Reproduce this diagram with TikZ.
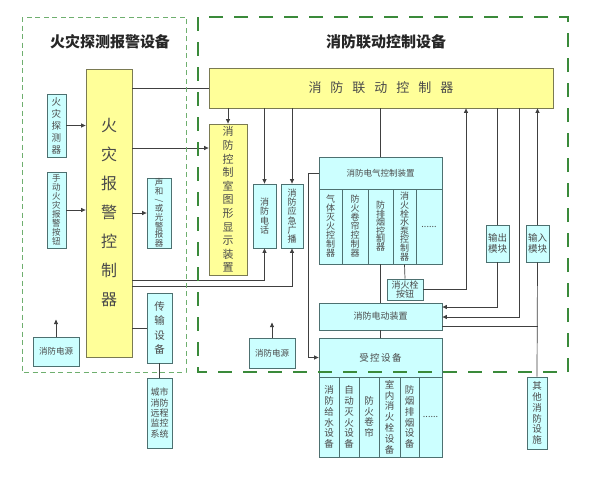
\documentclass[tikz,border=0pt]{standalone}
\usepackage{fontspec}
\newfontfamily\cjk{Noto Sans CJK SC}
\usetikzlibrary{arrows.meta,calc}
\definecolor{yfill}{HTML}{FFFF99}
\definecolor{yline}{HTML}{7A7A52}
\definecolor{cfill}{HTML}{CCFFFF}
\definecolor{cline}{HTML}{4D7070}
\definecolor{lc}{HTML}{404040}
\definecolor{txt}{HTML}{4A4A4A}
\definecolor{lgreen}{HTML}{6FAF6F}
\definecolor{dgreen}{HTML}{3A8A3A}
\newcommand\bx[9]{\node[#2, minimum width={(#5-#3)*1pt}, minimum height={(#6-#4)*1pt}, font=\cjk\fontsize{#7}{#8}\selectfont] (#1) at ({(#3+#5)/2},{(#4+#6)/2}) {#9};}
\begin{document}
\begin{tikzpicture}[x=1pt,y=-1pt,
  yb/.style={draw=yline, fill=yfill, line width=0.8pt, inner sep=0pt, text=txt, align=center},
  cb/.style={draw=cline, fill=cfill, line width=0.8pt, inner sep=0pt, text=txt, align=center},
  ln/.style={draw=lc, line width=0.7pt},
  arr/.style={ln, -{Triangle[length=4.5pt,width=4pt]}},
  ttl/.style={font=\cjk\bfseries\fontsize{15}{15}\selectfont, text=black!85}]
\useasboundingbox[fill=white] (0,0) rectangle (590,482);
\node[ttl] (lt) at (110,42) {火灾探测报警设备};
\node[ttl] (rt) at (386,42) {消防联动控制设备};
% boxes
\bx{ldc}{yb}{209}{68}{553}{108}{13}{15}{消\hspace{9pt}防\hspace{9pt}联\hspace{9pt}动\hspace{9pt}控\hspace{9pt}制\hspace{9pt}器}
\bx{fac}{yb}{86}{69}{132}{357}{16}{29}{火\\灾\\报\\警\\控\\制\\器}
\bx{det}{cb}{47}{94}{66}{157}{9.5}{12}{火\\灾\\探\\测\\器}
\bx{man}{cb}{47}{172}{66}{248}{8.5}{9}{手\\动\\火\\灾\\报\\警\\按\\钮}
\bx{alm}{cb}{147}{178}{171}{248}{8.5}{8.7}{声\\和\\\rotatebox[origin=c]{90}{/}\\或\\光\\警\\报\\器}
\bx{gds}{yb}{209}{124}{247}{275}{11}{13.6}{消\\防\\控\\制\\室\\图\\形\\显\\示\\装\\置}
\bx{tel}{cb}{253}{184}{276}{248}{9}{9.2}{消\\防\\电\\话}
\bx{bro}{cb}{281}{184}{303}{248}{9}{9.2}{消\\防\\应\\急\\广\\播}
\bx{ecu}{cb}{319}{157}{442}{189}{8.5}{10}{消防电气控制装置}
\bx{ec1}{cb}{319}{189}{342}{264}{9}{9}{气\\体\\灭\\火\\控\\制\\器}
\bx{ec2}{cb}{342}{189}{368}{264}{9}{9}{防\\火\\卷\\帘\\控\\制\\器}
\bx{ec3}{cb}{368}{189}{393}{264}{9}{8.4}{防\\排\\烟\\控\\制\\器}
\bx{ec4}{cb}{393}{189}{416}{264}{9}{8.6}{消\\火\\栓\\水\\泵\\控\\制\\器}
\bx{ec5}{cb}{416}{189}{442}{264}{9}{9}{......}
\bx{hyd}{cb}{387}{279}{423}{300}{9}{9.5}{消火栓\\按钮}
\bx{mot}{cb}{319}{303}{442}{330}{9}{10}{消防电动装置}
\bx{ctl}{cb}{319}{338}{442}{377}{9.5}{10}{受\hspace{1.5pt}控\hspace{1.5pt}设\hspace{1.5pt}备}
\bx{cd1}{cb}{319}{377}{339}{457}{9.5}{10.8}{消\\防\\给\\水\\设\\备}
\bx{cd2}{cb}{339}{377}{359}{457}{9.5}{10.8}{自\\动\\灭\\火\\设\\备}
\bx{cd3}{cb}{359}{377}{379}{457}{9.5}{10.8}{防\\火\\卷\\帘}
\bx{cd4}{cb}{379}{377}{400}{457}{9.5}{10.8}{室\\内\\消\\火\\栓\\设\\备}
\bx{cd5}{cb}{400}{377}{419}{457}{9.5}{10.8}{防\\烟\\排\\烟\\设\\备}
\bx{cd6}{cb}{419}{377}{442}{457}{9}{9}{......}
\bx{out}{cb}{486}{225}{509}{262}{9.5}{10.5}{输出\\模块}
\bx{inp}{cb}{526}{225}{549}{262}{9.5}{10.5}{输入\\模块}
\bx{oth}{cb}{527}{377}{547}{449}{9.5}{10.8}{其\\他\\消\\防\\设\\施}
\bx{pw2}{cb}{249}{338}{295}{368}{8.5}{10}{消防电源}
\bx{pw1}{cb}{33}{337}{79}{366}{8.5}{10}{消防电源}
\bx{trn}{cb}{147}{293}{172}{363}{10.5}{14.4}{传\\输\\设\\备}
\bx{city}{cb}{147}{378}{172}{448}{9}{10.3}{城市\\消防\\远程\\监控\\系统}
% helper coordinates
\coordinate (p148) at (0,148);
\coordinate (p280) at (0,280);
\coordinate (p286) at (0,286);
\coordinate (p307) at (0,307);
\coordinate (p317) at (0,317);
\coordinate (p326) at (0,326);
\coordinate (q308) at (308,0);
\coordinate (q466) at (466,0);
\coordinate (q519) at (519,0);
% connectors
\draw[arr] (det.east) -- (det.east -| fac.west);
\draw[arr] (man.east) -- (man.east -| fac.west);
\draw[arr] (alm.west -| fac.east) -- (alm.west);
\draw[ln] (ldc.west -| fac.east) -- (ldc.west);
\draw[arr] (fac.east |- p148) -- (gds.west |- p148);
\draw[arr] (gds.north |- ldc.south) -- (gds.north);
\draw[arr] (tel.north |- ldc.south) -- (tel.north);
\draw[arr] (bro.north |- ldc.south) -- (bro.north);
\draw[arr] (fac.east |- p280) -| (tel.south);
\draw[arr] (fac.east |- p286) -| (bro.south);
\draw[ln] (ecu.north |- ldc.south) -- (ecu.north);
\draw[arr] (ecu.west) -- (ecu.west -| q308) |- (ctl.west);
\draw[ln] (ec4.south) -- (hyd.north);
\draw[arr] (hyd.east) -| (ldc.south -| q466);
\draw[ln] (ec3.south) -- (mot.north);
\draw[ln] (mot.south) -- (ctl.north);
\draw[ln] (out.north |- ldc.south) -- (out.north);
\draw[arr] (out.south) |- (mot.east |- p307);
\draw[arr] (ldc.south -| q519) |- (mot.east |- p317);
\draw[arr] (inp.north) -- (inp.north |- ldc.south);
\draw[ln] (inp.south) -- (oth.north);
\draw[ln] (mot.east |- p326) -- (inp.south |- p326);
\draw[ln] (fac.east |- trn.west) -- (trn.west);
\draw[ln] (trn.south) -- (city.north);
\draw[arr] (pw1.north) -- ++(0,-17);
\draw[arr] (pw2.north) -- ++(0,-15);
% frames
\draw[lgreen, line width=0.8pt, dash pattern=on 5pt off 3.5pt] (22,17) rectangle (186,372);
\draw[dgreen, line width=1.6pt, dash pattern=on 14pt off 11pt] (198,17) rectangle (568,372);
\end{tikzpicture}
\end{document}
